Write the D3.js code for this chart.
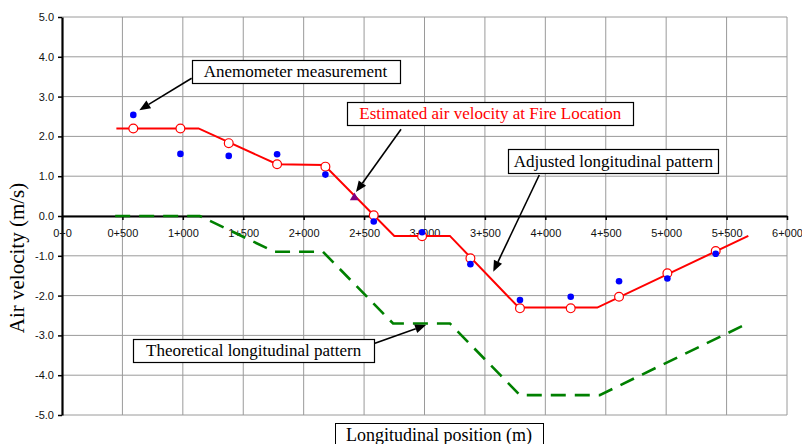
<!DOCTYPE html>
<html>
<head>
<meta charset="utf-8">
<script src="https://cdn.jsdelivr.net/npm/d3@7"></script>
<style>
body { margin: 0; background: #fff; }
svg { display: block; }
</style>
</head>
<body>
<div class="chart"></div>
<script>
var width = 802;
var height = 444;

var margin = {
    top: 17,
    bottom: 29,
    left: 62,
    right: 15
}

// data
var x_ticks = [0, 500, 1000, 1500, 2000, 2500, 3000, 3500, 4000, 4500, 5000, 5500, 6000];
var x_tick_labels = ["0+0", "0+500", "1+000", "1+500", "2+000", "2+500", "3+000", "3+500", "4+000", "4+500", "5+000", "5+500", "6+000"];
var y_ticks = [-5, -4, -3, -2, -1, 0, 1, 2, 3, 4, 5];

// anemometer stations
var stations = [590, 980, 1380, 1780, 2180, 2580, 2980, 3380, 3790, 4210, 4610, 5010, 5410];
var measured = [2.54, 1.56, 1.51, 1.55, 1.04, -0.14, -0.41, -1.21, -2.11, -2.03, -1.64, -1.57, -0.95];
var adjusted_at_stations = [2.2, 2.2, 1.83, 1.30, 1.24, 0.02, -0.51, -1.06, -2.32, -2.32, -2.03, -1.44, -0.88];

// adjusted pattern (red line)
var adjusted_x = [450, 1130, 1780, 2170, 2750, 3210, 3780, 4430, 5680];
var adjusted_y = [2.2, 2.2, 1.3, 1.28, -0.5, -0.5, -2.3, -2.3, -0.5];

// theoretical pattern (green dashes)
var theo_x = [440, 1140, 1760, 2160, 2740, 3210, 3790, 4450, 5640];
var theo_y = [0, 0, -0.9, -0.9, -2.7, -2.7, -4.5, -4.5, -2.75];

// fire location
var fire_x = [2420];
var fire_y = [0.46];

// callouts: box corners, arrow start and tip, in chart units
var notes = [
    {text: "Anemometer measurement", color: "#000000", x0: 1073, x1: 2791, y0: 3.92, y1: 3.33, sx: 1073, sy: 3.46, tx: 640, ty: 2.66},
    {text: "Estimated air velocity at Fire Location", color: "#FF0000", x0: 2361, x1: 4728, y0: 2.857, y1: 2.269, sx: 2806, sy: 2.18, tx: 2433, ty: 0.60},
    {text: "Adjusted longitudinal pattern", color: "#000000", x0: 3694, x1: 5432, y0: 1.676, y1: 1.073, sx: 3950, sy: 1.03, tx: 3569, ty: -1.40},
    {text: "Theoretical longitudinal pattern", color: "#000000", x0: 590, x1: 2582, y0: -3.09, y1: -3.676, sx: 2590, sy: -3.20, tx: 3013, ty: -2.74}
];

var svg = d3.select(".chart").append("svg")
    .attr("width", width)
    .attr("height", height);

var x_scale = d3.scaleLinear()
    .domain([0, 6000])
    .range([margin.left, width - margin.right]);

var y_scale = d3.scaleLinear()
    .domain([-5, 5])
    .range([height - margin.bottom, margin.top]);

// grid
var grid = svg.append("g").attr("class", "grid");
grid.selectAll("line.v")
    .data(x_ticks.filter(d => d > 0))
    .enter().append("line")
    .attr("class", "v")
    .attr("x1", d => x_scale(d)).attr("x2", d => x_scale(d))
    .attr("y1", y_scale(5)).attr("y2", y_scale(-5))
    .attr("stroke", "#9a9a9a")
    .attr("stroke-width", 1);
grid.selectAll("line.h")
    .data(y_ticks)
    .enter().append("line")
    .attr("class", "h")
    .attr("x1", x_scale(0)).attr("x2", x_scale(6000))
    .attr("y1", d => y_scale(d)).attr("y2", d => y_scale(d))
    .attr("stroke", "#9a9a9a")
    .attr("stroke-width", 1);

// axes
var y_axis = svg.append("g")
    .attr("transform", "translate(" + margin.left + ",0)")
    .call(d3.axisLeft(y_scale)
        .tickValues(y_ticks)
        .tickSize(4)
        .tickSizeOuter(0)
        .tickPadding(4)
        .tickFormat(d => d.toFixed(1)));

var x_axis = svg.append("g")
    .attr("transform", "translate(0," + y_scale(0) + ")")
    .call(d3.axisBottom(x_scale)
        .tickValues(x_ticks)
        .tickSize(4)
        .tickSizeOuter(0)
        .tickPadding(9)
        .tickFormat((d, i) => x_tick_labels[i]));

[x_axis, y_axis].forEach(function(a){
    a.select(".domain").attr("stroke", "#000").attr("stroke-width", 2.2);
    a.selectAll(".tick line").attr("stroke", "#000").attr("stroke-width", 1.5);
    a.selectAll("text")
        .attr("fill", "#111")
        .attr("font-family", "'Liberation Sans', Arial, sans-serif")
        .attr("font-size", "11px");
});

// axis titles
svg.append("text")
    .attr("transform", "translate(23.5,258) rotate(-90)")
    .attr("text-anchor", "middle")
    .attr("font-family", "'Liberation Serif', 'Times New Roman', serif")
    .attr("font-size", "21px")
    .attr("fill", "#000")
    .text("Air velocity (m/s)");

svg.append("rect")
    .attr("x", 335.5).attr("y", 423.5)
    .attr("width", 208).attr("height", 30)
    .attr("fill", "#fff")
    .attr("stroke", "#000")
    .attr("stroke-width", 1);
svg.append("text")
    .attr("x", 439).attr("y", 441)
    .attr("text-anchor", "middle")
    .attr("font-family", "'Liberation Serif', 'Times New Roman', serif")
    .attr("font-size", "18px")
    .attr("fill", "#000")
    .text("Longitudinal position (m)");

// series
var series = svg.append("g");

var line = d3.line()
    .x(d => x_scale(d[0]))
    .y(d => y_scale(d[1]));

series.append("path")
    .attr("d", line(d3.zip(theo_x, theo_y)))
    .attr("fill", "none")
    .attr("stroke", "#008000")
    .attr("stroke-width", 2.6)
    .attr("stroke-dasharray", "15,9");

series.append("path")
    .attr("d", line(d3.zip(adjusted_x, adjusted_y)))
    .attr("fill", "none")
    .attr("stroke", "#FF0000")
    .attr("stroke-width", 2);

series.selectAll("circle.adj")
    .data(d3.zip(stations, adjusted_at_stations))
    .enter().append("circle")
    .attr("class", "adj")
    .attr("cx", d => x_scale(d[0]))
    .attr("cy", d => y_scale(d[1]))
    .attr("r", 4.4)
    .attr("fill", "#fff")
    .attr("stroke", "#FF0000")
    .attr("stroke-width", 1.2);

series.selectAll("circle.meas")
    .data(d3.zip(stations, measured))
    .enter().append("circle")
    .attr("class", "meas")
    .attr("cx", d => x_scale(d[0]))
    .attr("cy", d => y_scale(d[1]))
    .attr("r", 3.3)
    .attr("fill", "#0000FF");

series.selectAll("path.fire")
    .data(d3.zip(fire_x, fire_y))
    .enter().append("path")
    .attr("class", "fire")
    .attr("d", d3.symbol(d3.symbolTriangle).size(36))
    .attr("transform", d => "translate(" + x_scale(d[0]) + "," + y_scale(d[1]) + ")")
    .attr("fill", "#800080");

// callouts
var callouts = svg.append("g");
notes.forEach(function(n){
    var x0 = x_scale(n.x0), x1 = x_scale(n.x1);
    var y0 = y_scale(n.y0), y1 = y_scale(n.y1);
    callouts.append("rect")
        .attr("x", Math.round(x0) + 0.5).attr("y", Math.round(y0) + 0.5)
        .attr("width", Math.round(x1 - x0)).attr("height", Math.round(y1 - y0))
        .attr("fill", "#fff")
        .attr("stroke", "#000")
        .attr("stroke-width", 1.2);
    callouts.append("text")
        .attr("x", (x0 + x1) / 2)
        .attr("y", (y0 + y1) / 2 + 5.5)
        .attr("text-anchor", "middle")
        .attr("font-family", "'Liberation Serif', 'Times New Roman', serif")
        .attr("font-size", "17px")
        .attr("fill", n.color)
        .text(n.text);

    // arrow
    var sx = x_scale(n.sx), sy = y_scale(n.sy);
    var tx = x_scale(n.tx), ty = y_scale(n.ty);
    var dx = tx - sx, dy = ty - sy;
    var len = Math.sqrt(dx * dx + dy * dy);
    var ux = dx / len, uy = dy / len;
    var head = 11, half = 4.5;
    var bx = tx - ux * head, by = ty - uy * head;
    callouts.append("line")
        .attr("x1", sx).attr("y1", sy)
        .attr("x2", bx).attr("y2", by)
        .attr("stroke", "#000")
        .attr("stroke-width", 1.6);
    callouts.append("path")
        .attr("d", "M" + tx + "," + ty +
            "L" + (bx - uy * half) + "," + (by + ux * half) +
            "L" + (bx + uy * half) + "," + (by - ux * half) + "Z")
        .attr("fill", "#000");
});
</script>
</body>
</html>
